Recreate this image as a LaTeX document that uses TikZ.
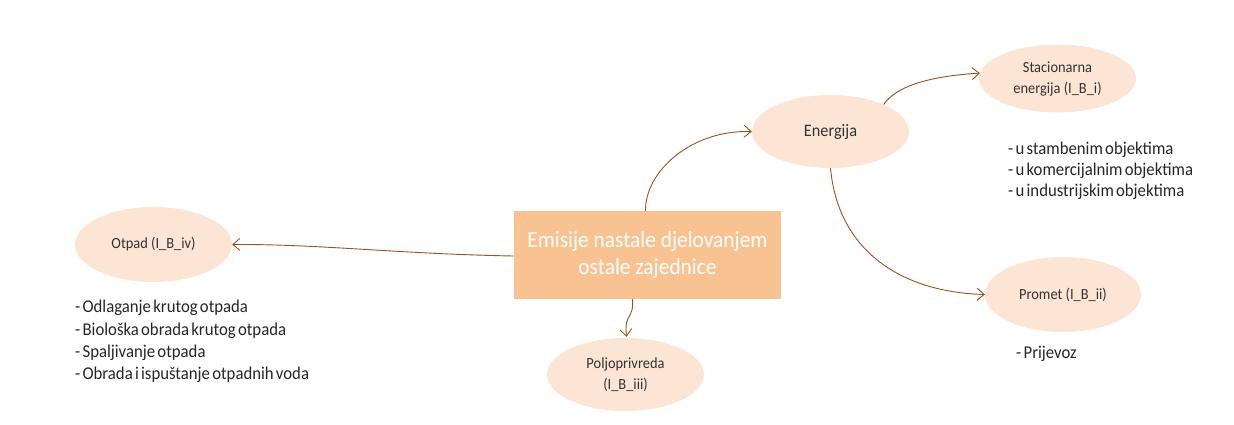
\documentclass[tikz,border=0pt]{standalone}
\usepackage{fontspec}
\setmainfont{Carlito}[FakeStretch=0.93]
\newfontfamily\listfont{Carlito}[FakeStretch=0.93, WordSpace=0.6]
\usetikzlibrary{shapes.geometric,arrows.meta}
\definecolor{boxfill}{HTML}{F9C291}
\definecolor{ellfill}{HTML}{FCE5D5}
\definecolor{arrowc}{HTML}{9E5020}
\definecolor{txt}{HTML}{333333}
\tikzset{
  ell/.style={ellipse, fill=ellfill, draw=none, inner sep=0pt, minimum width=157pt, minimum height=73pt, align=center, text=txt, font=\fontsize{15.5}{21}\selectfont},
  mainbox/.style={rectangle, fill=boxfill, draw=none, minimum width=267pt, minimum height=88pt, inner sep=0pt, align=center, text=white, font=\fontsize{23}{27}\selectfont},
  conn/.style={draw=arrowc, line width=0.9pt, -{Straight Barb[length=7pt,width=12pt]}},
  lst/.style={anchor=north west, align=left, text=black!85, inner sep=0pt}
}
\begin{document}
\begin{tikzpicture}[x=1pt,y=-1pt]
\useasboundingbox (0,0) rectangle (1234,424);
\node[mainbox] (box) at (647.5,255) {Emisije nastale djelovanjem\\ostale zajednice};
\node[ell, minimum height=75pt] (otpad) at (153.5,244.5) {Otpad (I\_B\_iv)};
\node[ell] (polj) at (625.5,374.5) {Poljoprivreda\\(I\_B\_iii)};
\node[ell, font=\fontsize{17.5}{21}\selectfont] (energ) at (830.5,131.5) {Energija};
\node[ell, minimum height=68pt] (stac) at (1057.5,78.5) {Stacionarna\\energija (I\_B\_i)};
\node[ell, minimum width=156pt, minimum height=75pt] (prom) at (1063,294.5) {Promet (I\_B\_ii)};

\node[lst, font=\listfont\fontsize{18}{22.3}\selectfont] (l1) at (75,300) {- Odlaganje krutog otpada\\- Biološka obrada krutog otpada\\- Spaljivanje otpada\\- Obrada i ispuštanje otpadnih voda};
\node[lst, font=\listfont\fontsize{18}{21}\selectfont] (l2) at (1008,142) {- u stambenim objektima\\- u komercijalnim objektima\\- u industrijskim objektima};
\node[lst, font=\listfont\fontsize{18}{21}\selectfont] (l3) at (1016,346) {- Prijevoz};

\draw[conn] ([yshift=-1pt]box.west) .. controls (400,254) and (320,244) .. (otpad.east);
\draw[conn] ([xshift=-2pt]box.north) .. controls (645,172) and (690,130) .. (energ.west);
\draw[conn] ([xshift=-15pt]box.south) .. controls (634,320) and (624,312) .. ([xshift=1pt,yshift=1pt]polj.north);
\draw[conn] (energ.27) .. controls (898,84) and (935,76) .. (stac.176);
\draw[conn] (energ.south) .. controls (838,250) and (900,292) .. (prom.west);
\end{tikzpicture}
\end{document}
